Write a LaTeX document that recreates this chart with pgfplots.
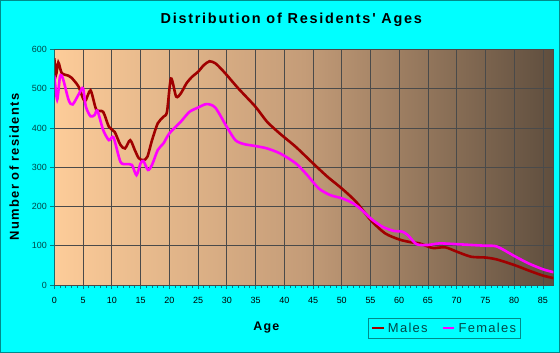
\documentclass[border=0pt]{standalone}
\usepackage{pgfplots}
\pgfplotsset{compat=1.18}
\usepackage{fontspec}
\setmainfont{Liberation Sans}
\newfontfamily\spaced[LetterSpace=10]{Liberation Sans}
\newfontfamily\tspaced[LetterSpace=12]{Liberation Sans}
\definecolor{bgcyan}{HTML}{00FFFF}
\definecolor{frame}{HTML}{008B8B}
\definecolor{tealax}{HTML}{008080}
\definecolor{txtteal}{HTML}{004848}
\definecolor{males}{HTML}{A00000}
\definecolor{females}{HTML}{FF00FF}
\definecolor{peach}{HTML}{FDCC99}
\definecolor{midbrown}{HTML}{C49C78}
\definecolor{darkbrown}{HTML}{5F4E3E}
\definecolor{gridc}{HTML}{4A4A4A}
\begin{document}
\begin{tikzpicture}
\fill[bgcyan,draw=frame,line width=1bp] (-53.8bp,-67.5bp) rectangle (505.2bp,284.5bp);
\useasboundingbox (-54.3bp,-68bp) rectangle (505.7bp,285bp);
\begin{axis}[
  at={(0,0)}, anchor=south west,
  scale only axis, width=499bp, height=235.5bp,
  xmin=0, xmax=86.8, ymin=0, ymax=600,
  axis background/.style={left color=peach, right color=darkbrown, middle color=midbrown},
  xtick distance=5, ytick distance=100,
  minor x tick num=4,
  xtick pos=bottom, ytick pos=left,
  tick align=outside,
  major tick length=4bp, minor tick length=3bp,
  tick style={tealax, line width=0.6bp},
  grid=major,
  major grid style={gridc, line width=0.6bp},
  axis line style={gridc, line width=0.6bp},
  /pgf/number format/assume math mode=true,
  xticklabel style={font=\fontsize{9}{10}\selectfont, black, yshift=-5bp},
  yticklabel style={font=\fontsize{9}{10}\selectfont, txtteal},
  legend style={at={(0.782,-0.183)}, anchor=center, fill=bgcyan, draw=frame,
    line width=0.8bp, font=\spaced\fontsize{13}{14}\selectfont\color{txtteal},
    legend columns=2, inner sep=2.5bp,
    /tikz/every odd column/.style={column sep=1bp},
    /tikz/every even column/.style={column sep=12bp}},
  legend image code/.code={\draw[#1, line width=2.5bp] (0bp,0bp) -- (11.5bp,0bp);},
  clip=true,
]
\addplot[males, line width=2.6bp, smooth, tension=0.45] coordinates {
(0,578)(0.3,536)(0.7,567)(1.3,540)(2.5,533)(3,528)(4.2,506)(5.3,468)(6.3,496)(7.3,447)(8.5,441)(9.5,403)(10.5,390)(11.5,357)(12.3,348)(13.2,369)(14,344)(14.7,323)(15.5,318)(16.2,327)(17,369)(18,412)(19,429)(19.6,441)(20.3,526)(21.2,480)(22,488)(23,514)(24,531)(25,543)(26,560)(27,570)(28,565)(29,551)(30,535)(32,501)(35,454)(37,416)(39.3,385)(42,352)(45,310)(47.5,276)(50,246)(52.5,212)(55,166)(57.5,132)(60,116)(62,109)(63.5,106)(65,98)(66,94)(68,96)(70,85)(72.5,72)(75,70)(77,65)(80,51)(82.5,37)(85,24)(87,17)
};
\addlegendentry{Males}
\addplot[females, line width=2.6bp, smooth, tension=0.45] coordinates {
(0,534)(0.5,472)(1.0,532)(1.5,526)(2.5,471)(3.2,460)(4.4,490)(5,501)(5.5,454)(6.3,430)(7,433)(7.5,444)(8.5,395)(9.5,369)(10.3,376)(11.5,314)(12.5,308)(13.5,306)(14.3,280)(15,310)(15.5,316)(16.3,293)(17,306)(18,344)(19,361)(20,386)(22,416)(23.5,441)(25,452)(26.5,461)(28,452)(30,403)(31.5,369)(33,359)(35,354)(37,348)(39.3,335)(42,310)(44,280)(46,246)(48,229)(50,221)(52,208)(53.5,191)(55,170)(57,149)(59,138)(60.5,136)(61.5,127)(63,104)(65,102)(67,106)(70,104)(72.5,102)(75,100)(77,98)(80,74)(82.5,55)(85,40)(87,32)
};
\addlegendentry{Females}
\draw[tealax, line width=0.8bp] (rel axis cs:0,0) -- (rel axis cs:0,1);
\draw[tealax, line width=0.8bp] (rel axis cs:0,0) -- (rel axis cs:1,0);
\end{axis}
\node[font=\tspaced\bfseries\fontsize{14.5}{16}\selectfont, black] at (237bp,265bp) {Distribution of Residents' Ages};
\node[font=\spaced\bfseries\fontsize{13}{14}\selectfont, black, rotate=90] at (-40bp,118bp) {Number of residents};
\node[font=\spaced\bfseries\fontsize{12.5}{14}\selectfont, black] at (212bp,-43bp) {Age};
\end{tikzpicture}
\end{document}
